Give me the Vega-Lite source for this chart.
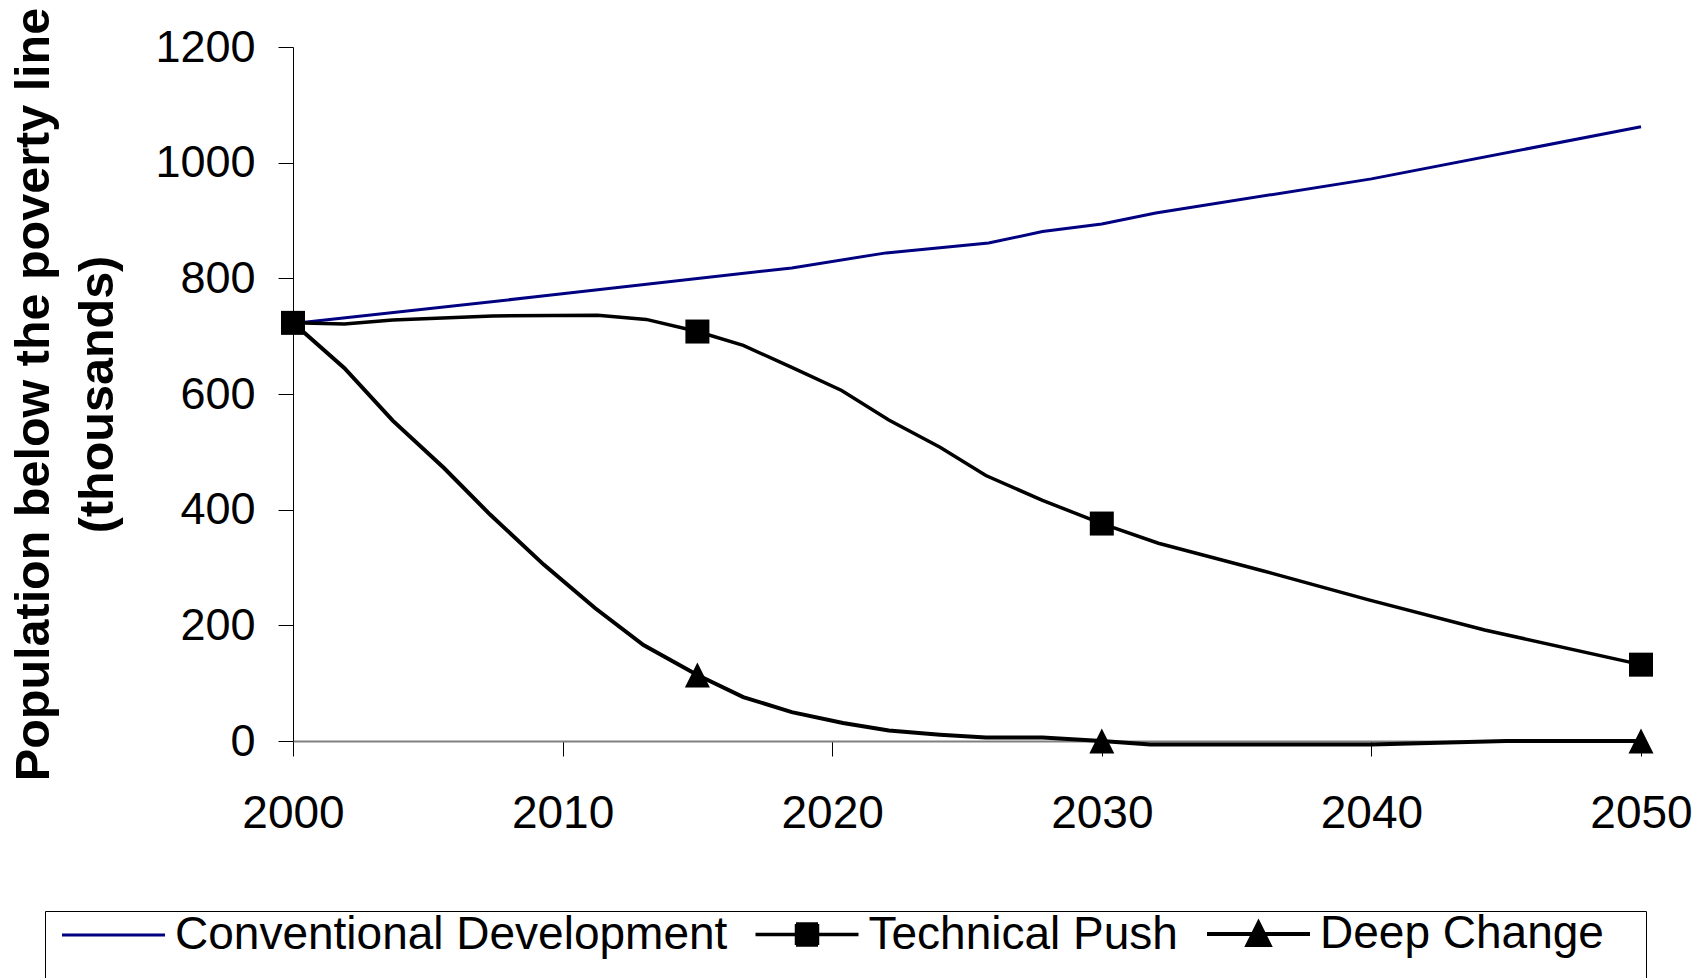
{
  "$schema": "https://vega.github.io/schema/vega-lite/v6.json",
  "width": 1348,
  "height": 694,
  "autosize": {"type": "none"},
  "padding": {"left": 293, "top": 47, "right": 58, "bottom": 237},
  "background": "white",
  "config": {"view": {"stroke": null}, "font": "Liberation Sans"},
  "datasets": {
    "series": [
      {"series": "Conventional Development", "year": 2000, "value": 722},
      {"series": "Conventional Development", "year": 2009, "value": 768},
      {"series": "Conventional Development", "year": 2018.5, "value": 818},
      {"series": "Conventional Development", "year": 2022, "value": 844},
      {"series": "Conventional Development", "year": 2025.8, "value": 861},
      {"series": "Conventional Development", "year": 2027.8, "value": 881},
      {"series": "Conventional Development", "year": 2030, "value": 894},
      {"series": "Conventional Development", "year": 2032, "value": 913},
      {"series": "Conventional Development", "year": 2040, "value": 972},
      {"series": "Conventional Development", "year": 2050, "value": 1062},
      {"series": "Technical Push", "year": 2000, "value": 723},
      {"series": "Technical Push", "year": 2001.9, "value": 721},
      {"series": "Technical Push", "year": 2003.7, "value": 728},
      {"series": "Technical Push", "year": 2007.4, "value": 735},
      {"series": "Technical Push", "year": 2011.3, "value": 736},
      {"series": "Technical Push", "year": 2013.1, "value": 729},
      {"series": "Technical Push", "year": 2015, "value": 708},
      {"series": "Technical Push", "year": 2016.7, "value": 684},
      {"series": "Technical Push", "year": 2018.5, "value": 646},
      {"series": "Technical Push", "year": 2020.35, "value": 606},
      {"series": "Technical Push", "year": 2022.1, "value": 555},
      {"series": "Technical Push", "year": 2024, "value": 508},
      {"series": "Technical Push", "year": 2025.7, "value": 459},
      {"series": "Technical Push", "year": 2027.8, "value": 416},
      {"series": "Technical Push", "year": 2030, "value": 376},
      {"series": "Technical Push", "year": 2032.1, "value": 342},
      {"series": "Technical Push", "year": 2036, "value": 294},
      {"series": "Technical Push", "year": 2039.9, "value": 244},
      {"series": "Technical Push", "year": 2044.2, "value": 192},
      {"series": "Technical Push", "year": 2050, "value": 132},
      {"series": "Deep Change", "year": 2000, "value": 723},
      {"series": "Deep Change", "year": 2001.9, "value": 645},
      {"series": "Deep Change", "year": 2003.7, "value": 554},
      {"series": "Deep Change", "year": 2005.6, "value": 472},
      {"series": "Deep Change", "year": 2007.3, "value": 392},
      {"series": "Deep Change", "year": 2009.3, "value": 305},
      {"series": "Deep Change", "year": 2011.2, "value": 230},
      {"series": "Deep Change", "year": 2013, "value": 166},
      {"series": "Deep Change", "year": 2015, "value": 114},
      {"series": "Deep Change", "year": 2016.7, "value": 76},
      {"series": "Deep Change", "year": 2018.5, "value": 50},
      {"series": "Deep Change", "year": 2020.4, "value": 31},
      {"series": "Deep Change", "year": 2022.1, "value": 18},
      {"series": "Deep Change", "year": 2024, "value": 11},
      {"series": "Deep Change", "year": 2025.7, "value": 6},
      {"series": "Deep Change", "year": 2027.8, "value": 6},
      {"series": "Deep Change", "year": 2030, "value": 0},
      {"series": "Deep Change", "year": 2031.8, "value": -6},
      {"series": "Deep Change", "year": 2040, "value": -6},
      {"series": "Deep Change", "year": 2045, "value": 0},
      {"series": "Deep Change", "year": 2050, "value": 0}
    ],
    "squares": [
      {"series": "Technical Push", "year": 2000, "value": 723},
      {"series": "Technical Push", "year": 2015, "value": 708},
      {"series": "Technical Push", "year": 2030, "value": 376},
      {"series": "Technical Push", "year": 2050, "value": 132}
    ],
    "triangles": [
      {"series": "Deep Change", "year": 2015, "value": 114},
      {"series": "Deep Change", "year": 2030, "value": 0},
      {"series": "Deep Change", "year": 2050, "value": 0}
    ]
  },
  "data": {"name": "series"},
  "encoding": {
    "x": {
      "field": "year",
      "type": "quantitative",
      "scale": {"domain": [2000, 2050], "nice": false, "zero": false},
      "axis": {
        "title": null,
        "values": [2000, 2010, 2020, 2030, 2040, 2050],
        "format": "d",
        "grid": false,
        "labelFont": "Liberation Sans",
        "labelFontSize": 46,
        "labelColor": "black",
        "labelPadding": 35,
        "labelFlush": false,
        "labelOverlap": false,
        "tickColor": "black",
        "tickSize": 15,
        "tickWidth": 1,
        "domainColor": "#808080",
        "domainWidth": 2
      }
    },
    "y": {
      "field": "value",
      "type": "quantitative",
      "scale": {"domain": [0, 1200], "nice": false},
      "axis": {
        "title": ["Population below the poverty line", "(thousands)"],
        "titleFont": "Liberation Sans",
        "titleFontWeight": "bold",
        "titleFontSize": 48.5,
        "titleLineHeight": 64,
        "titleColor": "black",
        "titlePadding": 32,
        "values": [0, 200, 400, 600, 800, 1000, 1200],
        "format": "d",
        "grid": false,
        "labelFont": "Liberation Sans",
        "labelFontSize": 45,
        "labelColor": "black",
        "labelPadding": 23,
        "labelFlush": false,
        "labelOverlap": false,
        "tickColor": "black",
        "tickSize": 15,
        "tickWidth": 1,
        "domainColor": "black",
        "domainWidth": 1
      }
    }
  },
  "layer": [
    {
      "mark": {"type": "point", "opacity": 0, "filled": false, "size": 400},
      "encoding": {
        "color": {
          "field": "series",
          "type": "nominal",
          "scale": {
            "domain": ["Conventional Development", "Technical Push", "Deep Change"],
            "range": ["#000080", "#000000", "#000000"]
          },
          "legend": {
            "orient": "none",
            "legendX": -248,
            "legendY": 864,
            "direction": "horizontal",
            "columns": 3,
            "title": null,
            "padding": 0,
            "strokeColor": "black",
            "fillColor": "white",
            "symbolSize": 400,
            "symbolStrokeWidth": 3,
            "symbolOpacity": 1,
            "labelFont": "Liberation Sans",
            "labelFontSize": 46,
            "labelColor": "black",
            "labelLimit": 1000,
            "labelOffset": 84,
            "columnPadding": 3.5,
            "encode": {
              "legend": {"strokeWidth": {"value": 1.5}},
              "symbols": {"opacity": {"value": 1}}
            }
          }
        },
        "shape": {
          "field": "series",
          "type": "nominal",
          "scale": {
            "domain": ["Conventional Development", "Technical Push", "Deep Change"],
            "range": [
              "M-2.3,0M-0.6,0H9.7M0,6.5",
              "M-2.3,0M-0.6,0H9.7M3.45,-1.05H5.65M3.45,-0.8H5.65M3.45,-0.55H5.65M3.45,-0.3H5.65M3.45,-0.05H5.65M3.45,0.2H5.65M3.45,0.45H5.65M3.45,0.7H5.65M3.45,0.95H5.65M3.45,1.05H5.65M3.5,-1.05V1.05M5.6,-1.05V1.05M0,6.5",
              "M-2.3,0M-0.6,0H9.7M4.55,-1.1L5.65,1.1H3.45ZM4.43,-0.85H4.67M4.3,-0.6H4.8M4.18,-0.35H4.92M4.05,-0.1H5.05M3.93,0.15H5.17M3.8,0.4H5.3M3.68,0.65H5.42M3.55,0.9H5.55M42.5,0M0,6.5"
            ]
          }
        }
      }
    },
    {
      "mark": {"type": "line"},
      "encoding": {
        "color": {"field": "series", "type": "nominal", "legend": null},
        "strokeWidth": {
          "field": "series",
          "type": "nominal",
          "scale": {
            "domain": ["Conventional Development", "Technical Push", "Deep Change"],
            "range": [3, 4, 4]
          },
          "legend": null
        }
      }
    },
    {
      "data": {"name": "triangles"},
      "mark": {"type": "point", "shape": "M0,-1L1,1H-1Z", "size": 625, "filled": true, "color": "black", "opacity": 1}
    },
    {
      "data": {"name": "squares"},
      "mark": {"type": "point", "shape": "square", "size": 576, "filled": true, "color": "black", "opacity": 1}
    }
  ]
}
